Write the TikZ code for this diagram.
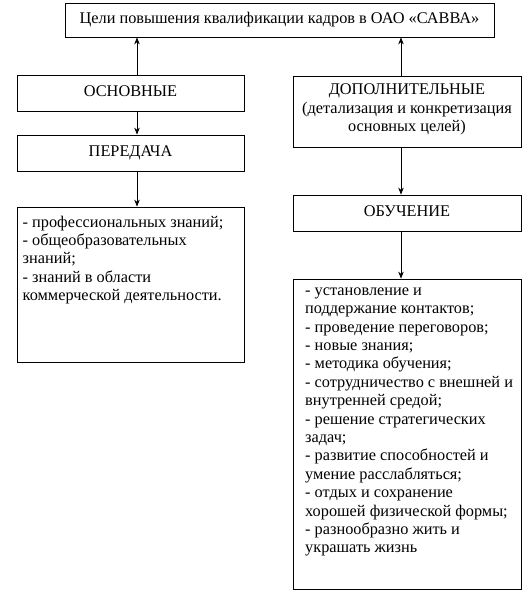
\documentclass[tikz,border=0pt]{standalone}
\usepackage{fontspec}
\setmainfont{Liberation Serif}
\usetikzlibrary{arrows.meta}
\begin{document}
\begin{tikzpicture}[x=1pt,y=-1pt]
\tikzset{
  txt/.style={inner sep=0pt, font=\fontsize{16.3pt}{18.4pt}\selectfont},
  boxbase/.style={txt, draw, line width=0.75pt},
  capbox/.style={boxbase, text height=11pt, text depth=4pt},
  listtext/.style={txt, align=left, anchor=north west},
  arr/.style={line width=0.75pt, -{Stealth[length=7pt,width=5.5pt]}}
}
\useasboundingbox (0,0) rectangle (526,595);
\fill[white] (0,0) rectangle (526,595);

\node[boxbase, minimum width=429pt, minimum height=34pt] (top) at (279.5,20)
  {Цели повышения квалификации кадров в ОАО «САВВА»};
\node[capbox, minimum width=227pt, minimum height=36pt] (osn) at (130.5,93) {ОСНОВНЫЕ};
\node[boxbase, minimum width=228pt, minimum height=71pt] (dop) at (407,111.5) {};
\node[txt, align=center] (doptext) at (407,109.5)
  {ДОПОЛНИТЕЛЬНЫЕ\\(детализация и конкретизация\\основных целей)};
\node[capbox, minimum width=227pt, minimum height=36pt] (per) at (130.5,153) {ПЕРЕДАЧА};
\node[capbox, minimum width=228pt, minimum height=36pt] (obu) at (407,213) {ОБУЧЕНИЕ};
\node[boxbase, minimum width=227pt, minimum height=155pt] (llist) at (130.5,284.5) {};
\node[boxbase, minimum width=228pt, minimum height=310pt] (rlist) at (407,434) {};

\node[listtext] (ltext) at (22.5,215.5)
  {- профессиональных знаний;\\- общеобразовательных\\знаний;\\- знаний в области\\коммерческой деятельности.};
\node[listtext] (rtext) at (305,287.5)
  {- установление и\\поддержание контактов;\\- проведение переговоров;\\- новые знания;\\- методика обучения;\\- сотрудничество с внешней и\\внутренней средой;\\- решение стратегических\\задач;\\- развитие способностей и\\умение расслабляться;\\- отдых и сохранение\\хорошей физической формы;\\- разнообразно жить и\\украшать жизнь};

\coordinate (xl) at (137,0);
\coordinate (xr) at (401,0);
\draw[arr] (osn.north -| xl) -- (top.south -| xl);
\draw[arr] (osn.south -| xl) -- (per.north -| xl);
\draw[arr] (per.south -| xl) -- (llist.north -| xl);
\draw[arr] (dop.north -| xr) -- (top.south -| xr);
\draw[arr] (dop.south -| xr) -- (obu.north -| xr);
\draw[arr] (obu.south -| xr) -- (rlist.north -| xr);
\end{tikzpicture}
\end{document}
